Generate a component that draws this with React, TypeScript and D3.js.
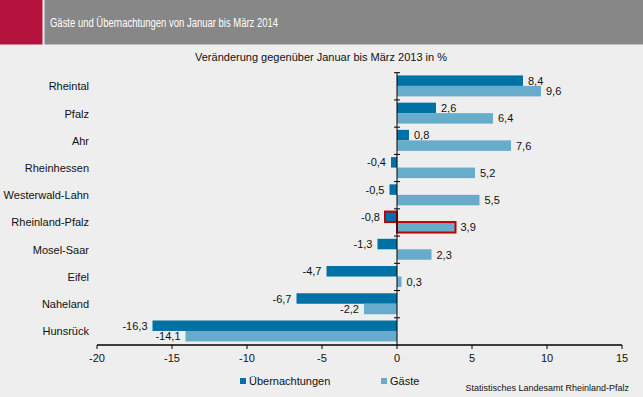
import React from "react";
import * as d3 from "d3";

// Veränderung gegenüber Januar bis März 2013 in %
const regions = [
  "Rheintal",
  "Pfalz",
  "Ahr",
  "Rheinhessen",
  "Westerwald-Lahn",
  "Rheinland-Pfalz",
  "Mosel-Saar",
  "Eifel",
  "Naheland",
  "Hunsrück",
];
const uebernachtungen = [8.4, 2.6, 0.8, -0.4, -0.5, -0.8, -1.3, -4.7, -6.7, -16.3];
const gaeste = [9.6, 6.4, 7.6, 5.2, 5.5, 3.9, 2.3, 0.3, -2.2, -14.1];
const xTicks = [-20, -15, -10, -5, 0, 5, 10, 15];
const highlight = "Rheinland-Pfalz";

const size = { width: 643, height: 397 };
const colors = {
  bg: "#EDEEED",
  header: "#878787",
  red: "#B5123E",
  dark: "#0071A4",
  light: "#68ACCB",
  frame: "#C00000",
};
const font = "'Liberation Sans', Arial, sans-serif";

const fmt = (v: number) => String(v).replace(".", ",");

const App = () => {
  const x = d3.scaleLinear().domain([-20, 15]).range([97, 622]);
  const y = d3.scaleBand<string>().domain(regions).range([72.7, 345]);
  const bw = y.bandwidth();
  const barH = bw * 0.385;
  const off = bw * 0.1;

  const series = [
    { name: "Übernachtungen", values: uebernachtungen, color: colors.dark, dy: off },
    { name: "Gäste", values: gaeste, color: colors.light, dy: off + barH },
  ];

  return (
    <svg
      width={size.width}
      height={size.height}
      style={{ position: "absolute", left: 0, top: 0, display: "block" }}
      fontFamily={font}
    >
      <rect width={size.width} height={size.height} fill={colors.bg} />
      {/* header */}
      <rect x={0} y={0} width={42.5} height={44.5} fill={colors.red} />
      <rect x={44.5} y={0} width={size.width - 44.5} height={44.5} fill={colors.header} />
      <text x={50} y={27} fill="#fff" fontSize={12.5} textLength={228} lengthAdjust="spacingAndGlyphs">
        Gäste und Übernachtungen von Januar bis März 2014
      </text>
      <text x={321} y={61} textAnchor="middle" fontSize={11} fill="#111">
        Veränderung gegenüber Januar bis März 2013 in %
      </text>

      {/* bars */}
      {series.map((s) =>
        regions.map((r, i) => {
          const v = s.values[i];
          const x0 = x(Math.min(0, v));
          const w = Math.abs(x(v) - x(0));
          const yy = (y(r) as number) + s.dy;
          const hl = r === highlight;
          return (
            <g key={s.name + r}>
              <rect
                x={x0}
                y={yy}
                width={w}
                height={barH}
                fill={s.color}
                stroke={hl ? colors.frame : "none"}
                strokeWidth={hl ? 2 : 0}
              />
              <text
                x={v >= 0 ? x(v) + 5 : x(v) - 5}
                y={yy + barH / 2 + 4}
                textAnchor={v >= 0 ? "start" : "end"}
                fontSize={11}
                fill="#111"
              >
                {fmt(v)}
              </text>
            </g>
          );
        })
      )}

      {/* category labels */}
      {regions.map((r) => (
        <text
          key={r}
          x={89}
          y={(y(r) as number) + bw / 2 + 4}
          textAnchor="end"
          fontSize={11}
          fill="#111"
        >
          {r}
        </text>
      ))}

      {/* y axis at zero */}
      <line x1={x(0)} x2={x(0)} y1={72.7} y2={345} stroke="#000" strokeWidth={1} />
      {regions.map((r) => (
        <line
          key={"t" + r}
          x1={x(0) - 3}
          x2={x(0) + 3}
          y1={y(r) as number}
          y2={y(r) as number}
          stroke="#000"
          strokeWidth={1}
        />
      ))}

      {/* x axis */}
      <line x1={x(-20)} x2={x(15)} y1={345} y2={345} stroke="#000" strokeWidth={1.5} />
      {xTicks.map((t) => (
        <g key={"x" + t}>
          <line x1={x(t)} x2={x(t)} y1={345} y2={349} stroke="#000" strokeWidth={1} />
          <text x={x(t)} y={362} textAnchor="middle" fontSize={11} fill="#111">
            {t}
          </text>
        </g>
      ))}

      {/* legend */}
      {series.map((s, i) => (
        <g key={"l" + s.name} transform={`translate(${240 + i * 141},378)`}>
          <rect x={0} y={0} width={6} height={6} fill={s.color} />
          <text x={9} y={7} fontSize={11} fill="#111">
            {s.name}
          </text>
        </g>
      ))}
      <text x={629} y={391} textAnchor="end" fontSize={9} fill="#111">
        Statistisches Landesamt Rheinland-Pfalz
      </text>
    </svg>
  );
};

export default App;
